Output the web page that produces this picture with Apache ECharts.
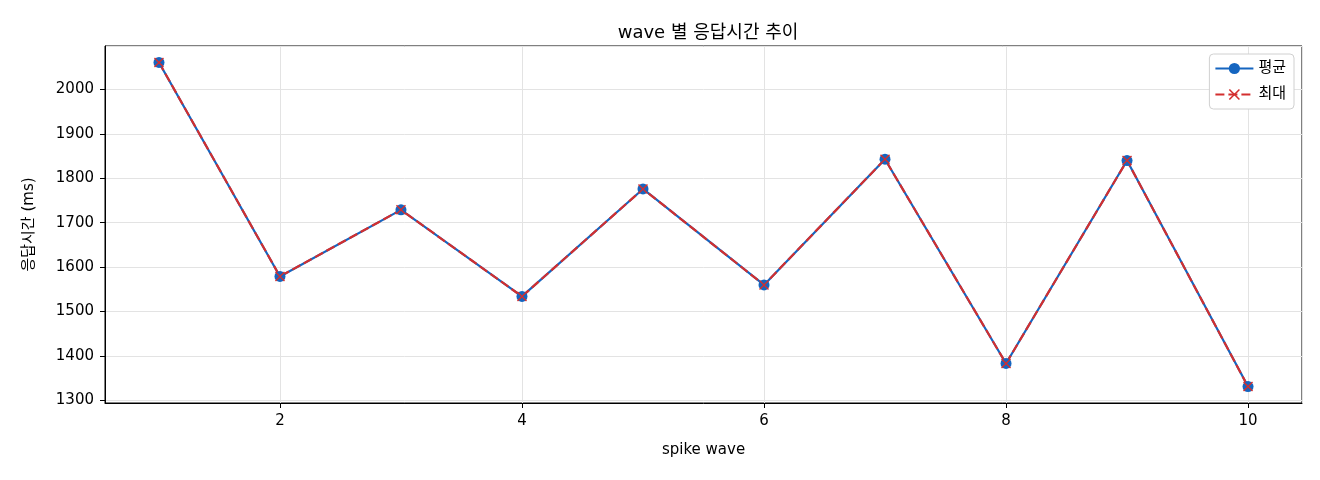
<!DOCTYPE html>
<html>
<head>
<meta charset="utf-8">
<script src="https://cdn.jsdelivr.net/npm/echarts@6/dist/echarts.min.js"></script>
<style>
  html, body { margin:0; padding:0; background:#fff; }
  #chart { width:1320px; height:480px; }
</style>
</head>
<body>
<div id="chart"></div>
<script>
// data
const waves = [1, 2, 3, 4, 5, 6, 7, 8, 9, 10];
const avgMs = [2061, 1579, 1729, 1534, 1776, 1560, 1843, 1383, 1840, 1331];
const maxMs = [2061, 1579, 1729, 1534, 1776, 1560, 1843, 1383, 1840, 1331];
const seriesNames = ['평균', '최대'];

const font = '"DejaVu Sans", "Noto Sans CJK KR", sans-serif';
const crossPath = 'path://M1,0L5,4L9,0L10,1L6,5L10,9L9,10L5,6L1,10L0,9L4,5L0,1Z';

const pairs = ys => waves.map((w, i) => [w, ys[i]]);

const c = echarts.init(document.getElementById('chart'), null, { renderer:'canvas' });
c.setOption({
  animation: false,
  textStyle: { fontFamily: font },
  title: {
    text: 'wave 별 응답시간 추이',
    left: 703, top: 19, textAlign: 'center',
    textStyle: { fontSize: 18, fontWeight: 'normal', color: '#000', fontFamily: font }
  },
  legend: {
    orient: 'vertical', right: 26, top: 54,
    backgroundColor: '#fff', borderColor: '#d0d0d0', borderWidth: 1, borderRadius: 4,
    padding: [7, 8, 7, 5], itemGap: 11, itemWidth: 38, itemHeight: 14,
    textStyle: { fontSize: 15, color: '#000', fontFamily: font },
    data: seriesNames
  },
  grid: { left: 105, right: 18, top: 46, bottom: 77, show: true, borderColor: '#000', borderWidth: 1 },
  xAxis: {
    type: 'value', min: 0.554, max: 10.446, splitNumber: 5,
    name: 'spike wave', nameLocation: 'middle', nameGap: 40,
    nameTextStyle: { fontSize: 15, color: '#000', fontFamily: font },
    axisLine: { show: true, lineStyle: { color: '#000', width: 1 } },
    axisTick: { show: true, length: 5, lineStyle: { color: '#000' } },
    axisLabel: { showMinLabel: false, showMaxLabel: false, fontSize: 15, color: '#000', margin: 11 },
    splitLine: { show: true, lineStyle: { color: '#e3e3e3', width: 1 } }
  },
  yAxis: {
    type: 'value', min: 1294, max: 2098, splitNumber: 8,
    name: '응답시간 (ms)', nameLocation: 'middle', nameGap: 68, nameRotate: 90,
    nameTextStyle: { fontSize: 15, color: '#000', fontFamily: font },
    axisLine: { show: true, lineStyle: { color: '#000', width: 1 } },
    axisTick: { show: true, length: 5, lineStyle: { color: '#000' } },
    axisLabel: { showMinLabel: false, showMaxLabel: false, fontSize: 15, color: '#000', margin: 11,
      formatter: v => String(v) },
    splitLine: { show: true, lineStyle: { color: '#e3e3e3', width: 1 } }
  },
  series: [
    {
      name: seriesNames[0], type: 'line', data: pairs(avgMs),
      symbol: 'circle', symbolSize: 11, showAllSymbol: true,
      lineStyle: { color: '#1565c0', width: 2.2 },
      itemStyle: { color: '#1565c0' }
    },
    {
      name: seriesNames[1], type: 'line', data: pairs(maxMs),
      symbol: crossPath, symbolSize: 10, showAllSymbol: true,
      lineStyle: { color: '#d32f2f', width: 2.2, type: [9, 4] },
      itemStyle: { color: '#d32f2f' }
    }
  ]
});
</script>
</body>
</html>
